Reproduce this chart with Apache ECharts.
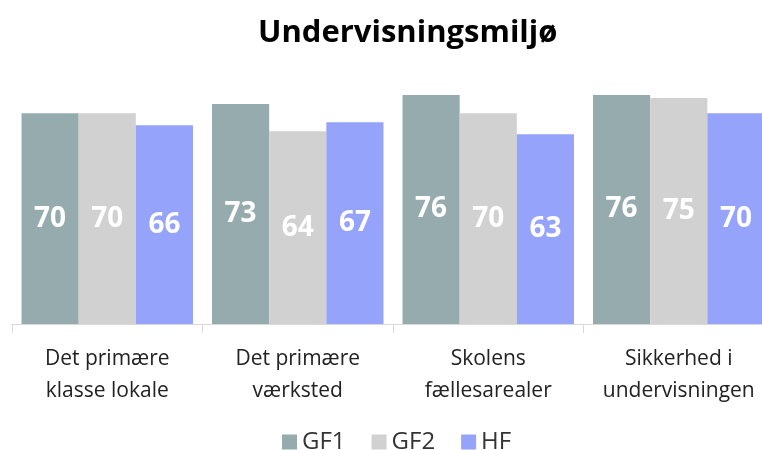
<!DOCTYPE html>
<html>
<head>
<meta charset="utf-8">
<script src="https://cdn.jsdelivr.net/npm/echarts@6/dist/echarts.min.js"></script>
<style>
  html, body { margin: 0; padding: 0; background: #fff; }
  #chart { width: 762px; height: 450px; }
</style>
</head>
<body>
<div id="chart"></div>
<script>
var categories = ['Det primære\nklasse lokale', 'Det primære\nværksted', 'Skolens\nfællesarealer', 'Sikkerhed i\nundervisningen'];
var gf1 = [70, 73, 76, 76];
var gf2 = [70, 64, 70, 75];
var hf = [66, 67, 63, 70];

var chart = echarts.init(document.getElementById('chart'));

function bar(name, data, color) {
    return {
        name: name,
        type: 'bar',
        data: data,
        barGap: '0%',
        barCategoryGap: '10%',
        itemStyle: { color: color },
        label: {
            show: true,
            position: 'inside',
            color: '#fff',
            fontSize: 28,
            fontWeight: 'bold',
            fontFamily: 'Open Sans'
        }
    };
}

var option = {
    animation: false,
    title: {
        text: 'Undervisningsmiljø',
        left: 253,
        top: 13,
        textStyle: {
            fontSize: 31,
            fontWeight: 'bold',
            color: '#000',
            fontFamily: 'Open Sans'
        }
    },
    legend: {
        bottom: -9,
        left: 277,
        itemWidth: 15,
        itemHeight: 15,
        itemGap: 26,
        icon: 'rect',
        textStyle: { fontSize: 24, color: '#333', fontFamily: 'Open Sans' },
        data: ['GF1', 'GF2', 'HF']
    },
    grid: {
        left: 12,
        top: 83,
        width: 762,
        height: 241,
        outerBoundsMode: 'none',
        containLabel: false
    },
    xAxis: {
        type: 'category',
        data: categories,
        axisLine: { lineStyle: { color: '#d9d9d9', width: 1 } },
        axisTick: { show: true, length: 9, lineStyle: { color: '#d9d9d9' } },
        axisLabel: {
            color: '#222',
            fontSize: 21,
            lineHeight: 32,
            margin: 19,
            fontFamily: 'Open Sans',
            interval: 0
        }
    },
    yAxis: {
        type: 'value',
        min: 0,
        max: 80,
        show: false,
        splitLine: { show: false }
    },
    series: [
        bar('GF1', gf1, '#95abae'),
        bar('GF2', gf2, '#d1d1d1'),
        bar('HF', hf, '#95a3fb')
    ]
};
chart.setOption(option);
</script>
</body>
</html>
